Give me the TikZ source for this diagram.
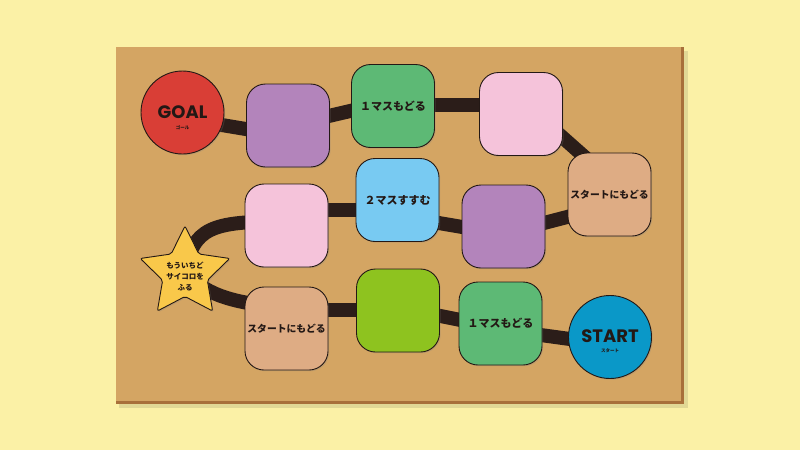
\documentclass[tikz,border=0pt]{standalone}
\usepackage{fontspec}
\newfontfamily\jp{Noto Sans CJK JP}
\newfontfamily\pop{Poppins}
\usetikzlibrary{shapes.geometric,calc,backgrounds,shadows}
\definecolor{bgc}{HTML}{FBF1A6}
\definecolor{cork}{HTML}{D4A563}
\definecolor{edgec}{HTML}{A8703A}
\definecolor{ink}{HTML}{231815}
\definecolor{roadc}{HTML}{2B1D19}
\definecolor{goalc}{HTML}{D93E36}
\definecolor{startc}{HTML}{0A98C8}
\definecolor{purp}{HTML}{B384BB}
\definecolor{grn}{HTML}{5DB975}
\definecolor{pnk}{HTML}{F5C3DA}
\definecolor{tanc}{HTML}{DEAC84}
\definecolor{lblue}{HTML}{78CAF2}
\definecolor{lime}{HTML}{8EC31F}
\definecolor{starc}{HTML}{F9C84A}
\pgfdeclarelayer{board}
\pgfsetlayers{board,background,main}
\tikzset{
  tile/.style={draw=ink, line width=0.9pt, rounded corners=19pt,
    minimum width=83pt, minimum height=83pt, inner sep=0pt, text=ink,
    font=\jp\bfseries\fontsize{11}{13}\selectfont,
    drop shadow={opacity=0.25, shadow xshift=1.2pt, shadow yshift=-1.2pt}},
  disc/.style={circle, draw=ink, line width=0.9pt, minimum size=83pt, inner sep=0pt,
    drop shadow={opacity=0.25, shadow xshift=1.2pt, shadow yshift=-1.2pt}},
  bigword/.style={inner sep=0pt, text=ink, font=\pop\bfseries\fontsize{18}{18}\selectfont},
  smallword/.style={inner sep=0pt, text=ink, font=\jp\bfseries\fontsize{4.5}{5}\selectfont},
  road/.style={line width=14pt, draw=roadc}
}
\begin{document}
\begin{tikzpicture}[x=1pt,y=-1pt]
\useasboundingbox (0,0) rectangle (800,450);
\begin{pgfonlayer}{board}
  \fill[bgc] (0,0) rectangle (800,450);
  \fill[black,opacity=0.10] (119,51) rectangle (688,408);
  \fill[edgec] (116,47) rectangle (684,404);
  \fill[cork] (116,47) rectangle (681,401);
\end{pgfonlayer}

% nodes
\node[disc, fill=goalc] (goal) at (182.5,112.5) {};
\node[bigword] (goalt) at (182.5,112.5) {GOAL};
\node[smallword] (goals) at (182.5,127.5) {ゴール};

\node[tile, fill=purp] (p1) at (288,125.5) {};
\node[tile, fill=grn] (g1) at (393,106) {１マスもどる};
\node[tile, fill=pnk] (k1) at (521,114) {};
\node[tile, fill=tanc, font=\jp\bfseries\fontsize{9.8}{12}\selectfont] (t1) at (609.5,194.5) {スタートにもどる};
\node[tile, fill=purp] (p2) at (503.5,226.5) {};
\node[tile, fill=lblue] (b1) at (397.5,200) {２マスすすむ};
\node[tile, fill=pnk] (k2) at (286.5,225.5) {};

\node[star, star points=5, star point ratio=2.0, minimum size=94pt, inner sep=0pt,
      draw=ink, line width=0.9pt, fill=starc, rounded corners=2pt,
      drop shadow={opacity=0.25, shadow xshift=1.2pt, shadow yshift=-1.2pt}] (star) at (185,273) {};
\node[align=center, inner sep=0pt, text=ink, font=\jp\bfseries\fontsize{7.5}{11}\selectfont] (startxt) at (185,277) {もういちど\\サイコロを\\ふる};

\node[tile, fill=tanc, font=\jp\bfseries\fontsize{9.8}{12}\selectfont] (t2) at (286.5,328.5) {スタートにもどる};
\node[tile, fill=lime] (l1) at (398,310.5) {};
\node[tile, fill=grn] (g2) at (500.5,323.5) {１マスもどる};
\node[disc, fill=startc] (start) at (610,337) {};
\node[bigword] (startt) at (610,336.5) {START};
\node[smallword] (starts) at (610,350.5) {スタート};

% connectors
\begin{pgfonlayer}{background}
  \draw[road] ($(goal.center)+(0,6)$) -- ($(p1.center)+(0,10.5)$);
  \draw[road] (p1.center) -- ($(g1.center)+(0,-5)$);
  \draw[road] ($(g1.center)+(0,-1)$) -- ($(k1.center)+(0,-9)$);
  \draw[road] ($(k1.center)+(0,-13.5)$) -- ($(t1.center)+(0,-15.5)$);
  \draw[road] ($(t1.center)+(0,11.5)$) -- ($(p2.center)+(0,7)$);
  \draw[road] ($(p2.center)+(0,7.5)$) -- ($(b1.center)+(0,16)$);
  \draw[road] ($(b1.center)+(0,10)$) -- ($(k2.center)+(0,-15.5)$);
  \draw[road] ($(k2.center)+(0,-4)$) .. controls (210,221) and (193,228) .. (star.center);
  \draw[road] (star.center) .. controls (205,292) and (225,303) .. ($(t2.center)+(0,-21)$);
  \draw[road] ($(t2.center)+(0,-18.5)$) -- ($(l1.center)+(0,-0.5)$);
  \draw[road] ($(l1.center)+(0,-3)$) -- ($(g2.center)+(0,4.5)$);
  \draw[road] ($(g2.center)+(0,6)$) -- ($(start.center)+(0,7.5)$);
\end{pgfonlayer}
\end{tikzpicture}
\end{document}
